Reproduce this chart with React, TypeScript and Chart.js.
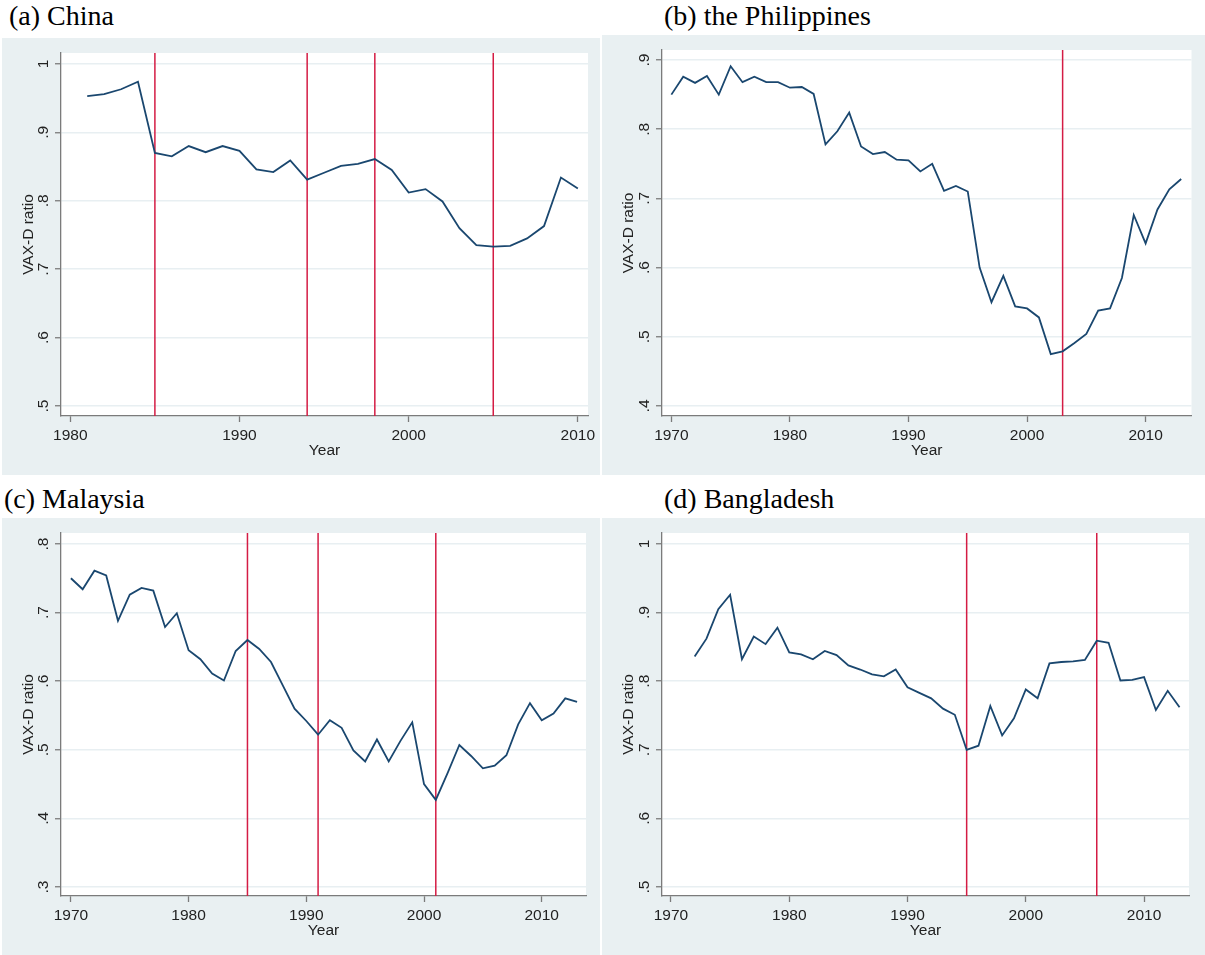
import React, { useEffect, useRef } from 'react';
import { Chart, registerables } from 'chart.js';

Chart.register(...registerables);

// ---------- DATA ----------
const chinaYears = [1981, 1982, 1983, 1984, 1985, 1986, 1987, 1988, 1989, 1990, 1991, 1992, 1993, 1994, 1995, 1996, 1997, 1998, 1999, 2000, 2001, 2002, 2003, 2004, 2005, 2006, 2007, 2008, 2009, 2010];
const chinaValues = [0.953, 0.956, 0.963, 0.974, 0.870, 0.865, 0.880, 0.871, 0.880, 0.873, 0.846, 0.842, 0.859, 0.831, 0.841, 0.851, 0.854, 0.861, 0.845, 0.812, 0.817, 0.799, 0.760, 0.735, 0.733, 0.734, 0.745, 0.763, 0.834, 0.818];
const chinaEvents = [1985, 1994, 1998, 2005];
const chinaXTicks = [1980, 1990, 2000, 2010];
const chinaYTicks = [0.5, 0.6, 0.7, 0.8, 0.9, 1];
const chinaYLabels = ['.5', '.6', '.7', '.8', '.9', '1'];

const philYears = [1970, 1971, 1972, 1973, 1974, 1975, 1976, 1977, 1978, 1979, 1980, 1981, 1982, 1983, 1984, 1985, 1986, 1987, 1988, 1989, 1990, 1991, 1992, 1993, 1994, 1995, 1996, 1997, 1998, 1999, 2000, 2001, 2002, 2003, 2004, 2005, 2006, 2007, 2008, 2009, 2010, 2011, 2012, 2013];
const philValues = [0.850, 0.876, 0.867, 0.877, 0.850, 0.891, 0.868, 0.876, 0.868, 0.868, 0.860, 0.861, 0.851, 0.778, 0.797, 0.824, 0.775, 0.764, 0.767, 0.756, 0.755, 0.739, 0.750, 0.711, 0.718, 0.710, 0.600, 0.550, 0.588, 0.544, 0.541, 0.528, 0.475, 0.479, 0.491, 0.504, 0.538, 0.541, 0.585, 0.676, 0.635, 0.684, 0.713, 0.728];
const philEvents = [2003];
const philXTicks = [1970, 1980, 1990, 2000, 2010];
const philYTicks = [0.4, 0.5, 0.6, 0.7, 0.8, 0.9];
const philYLabels = ['.4', '.5', '.6', '.7', '.8', '.9'];

const malYears = [1970, 1971, 1972, 1973, 1974, 1975, 1976, 1977, 1978, 1979, 1980, 1981, 1982, 1983, 1984, 1985, 1986, 1987, 1988, 1989, 1990, 1991, 1992, 1993, 1994, 1995, 1996, 1997, 1998, 1999, 2000, 2001, 2002, 2003, 2004, 2005, 2006, 2007, 2008, 2009, 2010, 2011, 2012, 2013];
const malValues = [0.750, 0.734, 0.761, 0.754, 0.688, 0.726, 0.736, 0.732, 0.679, 0.699, 0.645, 0.632, 0.611, 0.601, 0.644, 0.660, 0.647, 0.628, 0.594, 0.560, 0.542, 0.522, 0.543, 0.532, 0.499, 0.483, 0.515, 0.483, 0.513, 0.540, 0.450, 0.427, 0.466, 0.507, 0.491, 0.473, 0.477, 0.492, 0.537, 0.568, 0.543, 0.553, 0.575, 0.570];
const malEvents = [1985, 1991, 2001];
const malXTicks = [1970, 1980, 1990, 2000, 2010];
const malYTicks = [0.3, 0.4, 0.5, 0.6, 0.7, 0.8];
const malYLabels = ['.3', '.4', '.5', '.6', '.7', '.8'];

const bgdYears = [1972, 1973, 1974, 1975, 1976, 1977, 1978, 1979, 1980, 1981, 1982, 1983, 1984, 1985, 1986, 1987, 1988, 1989, 1990, 1991, 1992, 1993, 1994, 1995, 1996, 1997, 1998, 1999, 2000, 2001, 2002, 2003, 2004, 2005, 2006, 2007, 2008, 2009, 2010, 2011, 2012, 2013];
const bgdValues = [0.836, 0.862, 0.905, 0.926, 0.832, 0.865, 0.854, 0.878, 0.842, 0.839, 0.832, 0.844, 0.838, 0.823, 0.817, 0.810, 0.807, 0.817, 0.791, 0.783, 0.775, 0.760, 0.751, 0.700, 0.706, 0.764, 0.721, 0.746, 0.788, 0.775, 0.826, 0.828, 0.829, 0.831, 0.859, 0.856, 0.801, 0.802, 0.806, 0.758, 0.786, 0.762];
const bgdEvents = [1995, 2006];
const bgdXTicks = [1970, 1980, 1990, 2000, 2010];
const bgdYTicks = [0.5, 0.6, 0.7, 0.8, 0.9, 1];
const bgdYLabels = ['.5', '.6', '.7', '.8', '.9', '1'];

const titles = ['(a) China', '(b) the Philippines', '(c) Malaysia', '(d) Bangladesh'];
const xAxisTitle = 'Year';
const yAxisTitle = 'VAX-D ratio';

// ---------- STYLE / LAYOUT ----------
const BG = '#e9f0f2';
const NAVY = '#1a476f';
const RED = '#d41c44';
const AXIS = '#7b7b7b';
const GRID = '#e8eff2';
const SANS = '"Liberation Sans", Arial, sans-serif';
const FS = 15.5;

type PanelCfg = {
  title: string;
  titleX: number; titleTop: number;
  x: number; y: number; w: number; h: number;
  padTop: number; padRight: number; yAxisW: number; xAxisH: number;
  xMin: number; xMax: number; yMin: number; yMax: number;
  years: number[]; values: number[]; events: number[];
  xTicks: number[]; yTicks: number[]; yLabels: string[];
};

const panels: PanelCfg[] = [
  {
    title: titles[0], titleX: 9, titleTop: 1.6,
    x: 2, y: 38, w: 598, h: 437, padTop: 15, padRight: 12, yAxisW: 59, xAxisH: 59,
    xMin: 1979.45, xMax: 2010.6, yMin: 0.4854, yMax: 1.016,
    years: chinaYears, values: chinaValues, events: chinaEvents,
    xTicks: chinaXTicks, yTicks: chinaYTicks, yLabels: chinaYLabels,
  },
  {
    title: titles[1], titleX: 664, titleTop: 1.6,
    x: 602, y: 35, w: 603, h: 440, padTop: 15, padRight: 13.5, yAxisW: 60, xAxisH: 59,
    xMin: 1969.21, xMax: 2013.87, yMin: 0.3855, yMax: 0.9145,
    years: philYears, values: philValues, events: philEvents,
    xTicks: philXTicks, yTicks: philYTicks, yLabels: philYLabels,
  },
  {
    title: titles[2], titleX: 4, titleTop: 484.6,
    x: 2, y: 518, w: 598, h: 437, padTop: 15, padRight: 14, yAxisW: 59, xAxisH: 59,
    xMin: 1969.16, xMax: 2013.76, yMin: 0.2869, yMax: 0.816,
    years: malYears, values: malValues, events: malEvents,
    xTicks: malXTicks, yTicks: malYTicks, yLabels: malYLabels,
  },
  {
    title: titles[3], titleX: 664, titleTop: 484.6,
    x: 602, y: 518, w: 603, h: 437, padTop: 15, padRight: 16, yAxisW: 60, xAxisH: 59,
    xMin: 1969.24, xMax: 2013.8, yMin: 0.4869, yMax: 1.016,
    years: bgdYears, values: bgdValues, events: bgdEvents,
    xTicks: bgdXTicks, yTicks: bgdYTicks, yLabels: bgdYLabels,
  },
];

const backgroundPlugin = {
  id: 'panelBackground',
  beforeDraw(chart: any) {
    const { ctx, chartArea, width, height } = chart;
    ctx.save();
    ctx.fillStyle = BG;
    ctx.fillRect(0, 0, width, height);
    ctx.fillStyle = '#ffffff';
    ctx.fillRect(chartArea.left, chartArea.top, chartArea.right - chartArea.left, chartArea.bottom - chartArea.top);
    ctx.restore();
  },
};

const eventLinesPlugin = {
  id: 'eventLines',
  beforeDatasetsDraw(chart: any, _args: any, opts: any) {
    const { ctx, chartArea, scales } = chart;
    ctx.save();
    ctx.strokeStyle = opts.color;
    ctx.lineWidth = opts.width;
    for (const yr of opts.years as number[]) {
      const px = scales.x.getPixelForValue(yr);
      ctx.beginPath();
      ctx.moveTo(px, chartArea.top);
      ctx.lineTo(px, chartArea.bottom);
      ctx.stroke();
    }
    ctx.restore();
  },
};

function Panel({ cfg }: { cfg: PanelCfg }) {
  const ref = useRef<HTMLCanvasElement>(null);
  useEffect(() => {
    const points = cfg.years.map((yr, i) => ({ x: yr, y: cfg.values[i] }));
    const chart = new Chart(ref.current as HTMLCanvasElement, {
      type: 'line',
      data: {
        datasets: [
          {
            data: points,
            borderColor: NAVY,
            borderWidth: 1.8,
            pointRadius: 0,
            tension: 0,
            fill: false,
          },
        ],
      },
      plugins: [backgroundPlugin, eventLinesPlugin],
      options: {
        animation: false,
        responsive: false,
        devicePixelRatio: 1,
        layout: { padding: { top: cfg.padTop, right: cfg.padRight, left: 0, bottom: 0 } },
        plugins: {
          legend: { display: false },
          tooltip: { enabled: false },
          eventLines: { years: cfg.events, color: RED, width: 1.5 },
        } as any,
        scales: {
          x: {
            type: 'linear',
            min: cfg.xMin,
            max: cfg.xMax,
            afterBuildTicks: (s: any) => { s.ticks = cfg.xTicks.map((v) => ({ value: v })); },
            afterFit: (s: any) => { s.height = cfg.xAxisH; s.paddingLeft = 0; s.paddingRight = 0; },
            ticks: {
              autoSkip: false,
              maxRotation: 0,
              minRotation: 0,
              padding: 4,
              color: '#222222',
              font: { family: SANS, size: FS },
              callback: (v: any) => String(v),
            },
            grid: {
              drawOnChartArea: false,
              drawTicks: true,
              tickLength: 6,
              tickColor: AXIS,
              tickWidth: 1.3,
            },
            border: { display: true, color: AXIS, width: 1.3 },
            title: {
              display: true,
              text: xAxisTitle,
              color: '#222222',
              font: { family: SANS, size: FS },
              padding: { top: 0, bottom: 15 },
            },
          },
          y: {
            type: 'linear',
            min: cfg.yMin,
            max: cfg.yMax,
            afterBuildTicks: (s: any) => { s.ticks = cfg.yTicks.map((v) => ({ value: v })); },
            afterFit: (s: any) => { s.width = cfg.yAxisW; s.paddingTop = 0; s.paddingBottom = 0; },
            ticks: {
              autoSkip: false,
              minRotation: 90,
              maxRotation: 90,
              crossAlign: 'center',
              padding: 5,
              color: '#222222',
              font: { family: SANS, size: FS },
              callback: (_v: any, i: number) => cfg.yLabels[i],
            },
            grid: {
              color: GRID,
              lineWidth: 1.5,
              drawTicks: true,
              tickLength: 6,
              tickColor: AXIS,
              tickWidth: 1.3,
            },
            border: { display: true, color: AXIS, width: 1.3 },
            title: {
              display: true,
              text: yAxisTitle,
              color: '#222222',
              font: { family: SANS, size: FS },
              padding: { top: 17.5, bottom: 0 },
            },
          },
        },
      } as any,
    });
    return () => chart.destroy();
  }, [cfg]);

  return (
    <>
      <div
        style={{
          position: 'absolute',
          left: cfg.titleX,
          top: cfg.titleTop,
          fontFamily: '"Liberation Serif", "Times New Roman", serif',
          fontSize: 28,
          lineHeight: '28px',
          whiteSpace: 'nowrap',
          color: '#000',
        }}
      >
        {cfg.title}
      </div>
      <canvas
        ref={ref}
        width={cfg.w}
        height={cfg.h}
        style={{ position: 'absolute', left: cfg.x, top: cfg.y, width: cfg.w, height: cfg.h, display: 'block' }}
      />
    </>
  );
}

export default function App() {
  return (
    <div style={{ position: 'absolute', left: 0, top: 0, width: 1205, height: 955, background: '#ffffff', overflow: 'hidden' }}>
      {panels.map((p, i) => (
        <Panel key={i} cfg={p} />
      ))}
    </div>
  );
}
